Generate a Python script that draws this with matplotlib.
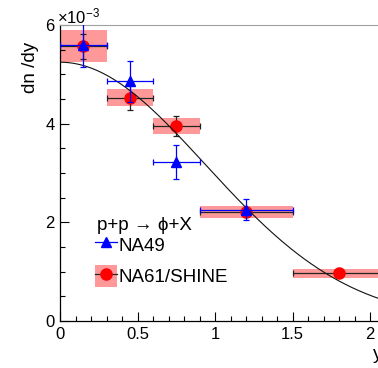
import numpy as np
import matplotlib
matplotlib.use("Agg")
import matplotlib.pyplot as plt
from matplotlib.lines import Line2D
from matplotlib.patches import Rectangle
from matplotlib.legend_handler import HandlerTuple

plt.rcParams["font.family"] = ["Liberation Sans", "DejaVu Sans"]
plt.rcParams["mathtext.fontset"] = "custom"
plt.rcParams["mathtext.rm"] = "Liberation Sans"
plt.rcParams["mathtext.default"] = "regular"

# ── Data (units of 10^-3) ────────────────────────────────────────────────────
na61_y_bins = [0.15, 0.45, 0.75, 1.2, 1.8]
na61_y_half = [0.15, 0.15, 0.15, 0.3, 0.3]
na61_dndy = [5.57, 4.53, 3.95, 2.21, 0.97]
na61_stat = [0.25, 0.25, 0.21, 0.11, 0.05]
na61_sys = [0.33, 0.17, 0.16, 0.12, 0.09]

na49_y_bins = [0.15, 0.45, 0.75, 1.2]
na49_y_half = [0.15, 0.15, 0.15, 0.3]
na49_dndy = [5.60, 4.86, 3.22, 2.26]
na49_err = [0.45, 0.42, 0.34, 0.21]

# double-Gaussian fit parameters
FIT_A, FIT_Y0, FIT_SIGMA = 2.78, 0.30, 0.88

C_BOX = "#ff9999"
C_NA61 = "#ff0000"
C_NA49 = "#0000ff"

# ── Figure ───────────────────────────────────────────────────────────────────
fig = plt.figure(figsize=(3.78, 3.68), dpi=100)
XMAX = 2.2
ax = fig.add_axes([60 / 378, 47 / 368, XMAX * 155 / 378, 296 / 368])
ax.set_xlim(0, XMAX)
ax.set_ylim(0, 6)

# systematic boxes
for x, hw, y, s in zip(na61_y_bins, na61_y_half, na61_dndy, na61_sys):
    ax.add_patch(Rectangle((x - hw, y - s), 2 * hw, 2 * s, facecolor=C_BOX,
                           edgecolor="none", zorder=1))

# NA61/SHINE
ax.errorbar(na61_y_bins, na61_dndy, xerr=na61_y_half, yerr=na61_stat,
            fmt="o", color="#222222", ecolor="#222222", elinewidth=0.9,
            capsize=2.5, capthick=0.9, markersize=8, markerfacecolor=C_NA61,
            markeredgecolor=C_NA61, zorder=3)

# fit curve
yy = np.linspace(0, XMAX, 300)
fit = FIT_A * (np.exp(-(yy - FIT_Y0) ** 2 / (2 * FIT_SIGMA ** 2))
               + np.exp(-(yy + FIT_Y0) ** 2 / (2 * FIT_SIGMA ** 2)))
ax.plot(yy, fit, color="#111111", linewidth=0.8, zorder=4)

# NA49
ax.errorbar(na49_y_bins, na49_dndy, xerr=na49_y_half, yerr=na49_err,
            fmt="^", color=C_NA49, ecolor=C_NA49, elinewidth=0.9,
            capsize=2.5, capthick=0.9, markersize=7.5, zorder=5)

# axes styling (ROOT look)
ax.set_xticks([0, 0.5, 1, 1.5, 2])
ax.set_xticklabels(["0", "0.5", "1", "1.5", "2"])
ax.set_xticks(np.arange(0, XMAX, 0.1), minor=True)
ax.set_yticks([0, 2, 4, 6])
ax.set_yticks(np.arange(0, 6.01, 0.5), minor=True)
ax.tick_params(which="both", direction="in", labelsize=12, width=0.8)
ax.tick_params(which="major", length=6.5, pad=4)
ax.tick_params(which="minor", length=3.3)
ax.tick_params(axis="y", which="both", right=False)
ax.tick_params(axis="x", which="both", top=False)
ax.spines["top"].set_color("#a0a0a0")
ax.spines["right"].set_visible(False)
for sp in ("left", "bottom"):
    ax.spines[sp].set_linewidth(0.9)

ax.set_ylabel("dn /dy", fontsize=13.5, loc="top")
ax.yaxis.set_label_coords(-0.063, 0.943)
ax.set_xlabel("y", fontsize=13.5, ha="left", va="baseline")
ax.xaxis.set_label_coords((373 - 60) / 341, -(359 - 321) / 296)

ax.annotate(r"$\times$10$^{-3}$", xy=(0, 1), xycoords="axes fraction",
            xytext=(-3, 2), textcoords="offset pixels", ha="left",
            va="baseline", fontsize=12)

# legend
ax.text((96.7 - 60) / 341, (321 - 230) / 296, "p+p \u2192 \u03d5+X",
        transform=ax.transAxes, fontsize=13.5, va="baseline", ha="left")
h49 = Line2D([], [], color=C_NA49, marker="^", markersize=7.5, linewidth=0.9)
h61 = (Rectangle((0, 0), 1, 1, facecolor=C_BOX, edgecolor="none"),
       Line2D([], [], color="#222222", marker="o", markersize=8,
              markerfacecolor=C_NA61, markeredgecolor=C_NA61, linewidth=0.9))
ax.legend([h49, h61], ["NA49", "NA61/SHINE"],
          handler_map={tuple: HandlerTuple(ndivide=1, pad=0)},
          loc="upper left", bbox_to_anchor=((95 - 60) / 341, (321 - 233.7) / 296),
          frameon=False, fontsize=13.5, borderpad=0, borderaxespad=0,
          handlelength=1.17, handleheight=1.39, handletextpad=0.1,
          labelspacing=0.53, numpoints=1)

fig.savefig("out.png", dpi=100)
